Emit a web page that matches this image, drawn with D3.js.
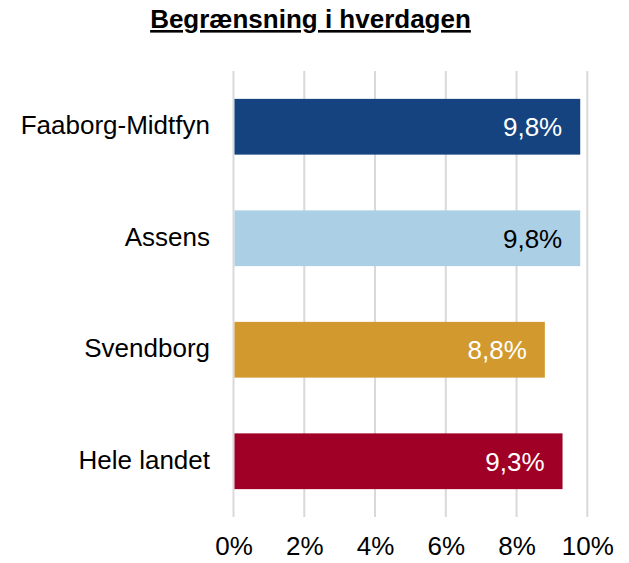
<!DOCTYPE html>
<html>
<head>
<meta charset="utf-8">
<script src="https://cdn.jsdelivr.net/npm/d3@7"></script>
<style>
body { margin: 0; background: #fff; }
text { font-family: "Liberation Sans", Arial, sans-serif; }
</style>
</head>
<body>
<div id="chart"></div>
<script>
const categories = ["Faaborg-Midtfyn", "Assens", "Svendborg", "Hele landet"]
const values = [9.8, 9.8, 8.8, 9.3]
const barColors = ["#15437f", "#abd0e6", "#d29a2e", "#a00025"]
const labelColors = ["#ffffff", "#000000", "#ffffff", "#ffffff"]
const ticks = [0, 2, 4, 6, 8, 10]

function drawChart(){
    let W = 629, H = 563
    let margin = {top: 71, right: 42, bottom: 46, left: 233.5}
    let pxX = W - margin.left - margin.right,
        pxY = H - margin.top - margin.bottom

    let svg = d3.select('#chart').append('svg')
        .attr('width', W)
        .attr('height', H)

    svg.append('text')
        .attr('x', 310.5)
        .attr('y', 28)
        .attr('text-anchor', 'middle')
        .attr('font-size', '26px')
        .attr('font-weight', 'bold')
        .attr('text-decoration', 'underline')
        .text('Begrænsning i hverdagen')

    let g = svg.append('g')
        .attr('transform', `translate(${margin.left} ${margin.top})`)

    let scX = d3.scaleLinear().domain([0, 10]).range([0, 353.8])
    let scY = d3.scaleBand().domain(categories).range([0, pxY])
        .paddingInner(0.5).paddingOuter(0.25)

    // vertical gridlines
    g.selectAll('.grid')
        .data(ticks)
        .enter()
        .append('line')
        .attr('x1', d=>scX(d))
        .attr('x2', d=>scX(d))
        .attr('y1', 0)
        .attr('y2', pxY)
        .attr('stroke', '#d9d9d9')
        .attr('stroke-width', 2)

    g.selectAll('rect')
        .data(values)
        .enter()
        .append('rect')
        .attr('x', scX(0) + 1)
        .attr('y', (d, i)=>scY(categories[i]))
        .attr('width', d=>scX(d) - 1)
        .attr('height', scY.bandwidth())
        .attr('fill', (d, i)=>barColors[i])

    g.selectAll('.val')
        .data(values)
        .enter()
        .append('text')
        .attr('x', d=>scX(d) - 18)
        .attr('y', (d, i)=>scY(categories[i]) + scY.bandwidth() / 2)
        .attr('dy', '0.36em')
        .attr('text-anchor', 'end')
        .attr('font-size', '26px')
        .attr('fill', (d, i)=>labelColors[i])
        .text(d=>d.toFixed(1).replace('.', ',') + '%')

    // category labels
    let yAxis = d3.axisLeft(scY).tickSize(0).tickPadding(23.5)
    let ya = g.append('g').call(yAxis)
    ya.attr('font-size', 26).attr('font-family', null)
    ya.select('.domain').remove()
    ya.selectAll('text')
        .attr('fill', '#000')
        .attr('dy', '0.29em')

    let xAxis = d3.axisBottom(scX).tickValues(ticks).tickSize(0).tickPadding(20)
        .tickFormat(d=>d + '%')
    let xa = g.append('g')
        .attr('transform', `translate(0, ${pxY})`)
        .call(xAxis)
    xa.attr('font-size', 26).attr('font-family', null)
    xa.select('.domain').remove()
    xa.selectAll('text')
        .attr('fill', '#000')
}

drawChart()
</script>
</body>
</html>
